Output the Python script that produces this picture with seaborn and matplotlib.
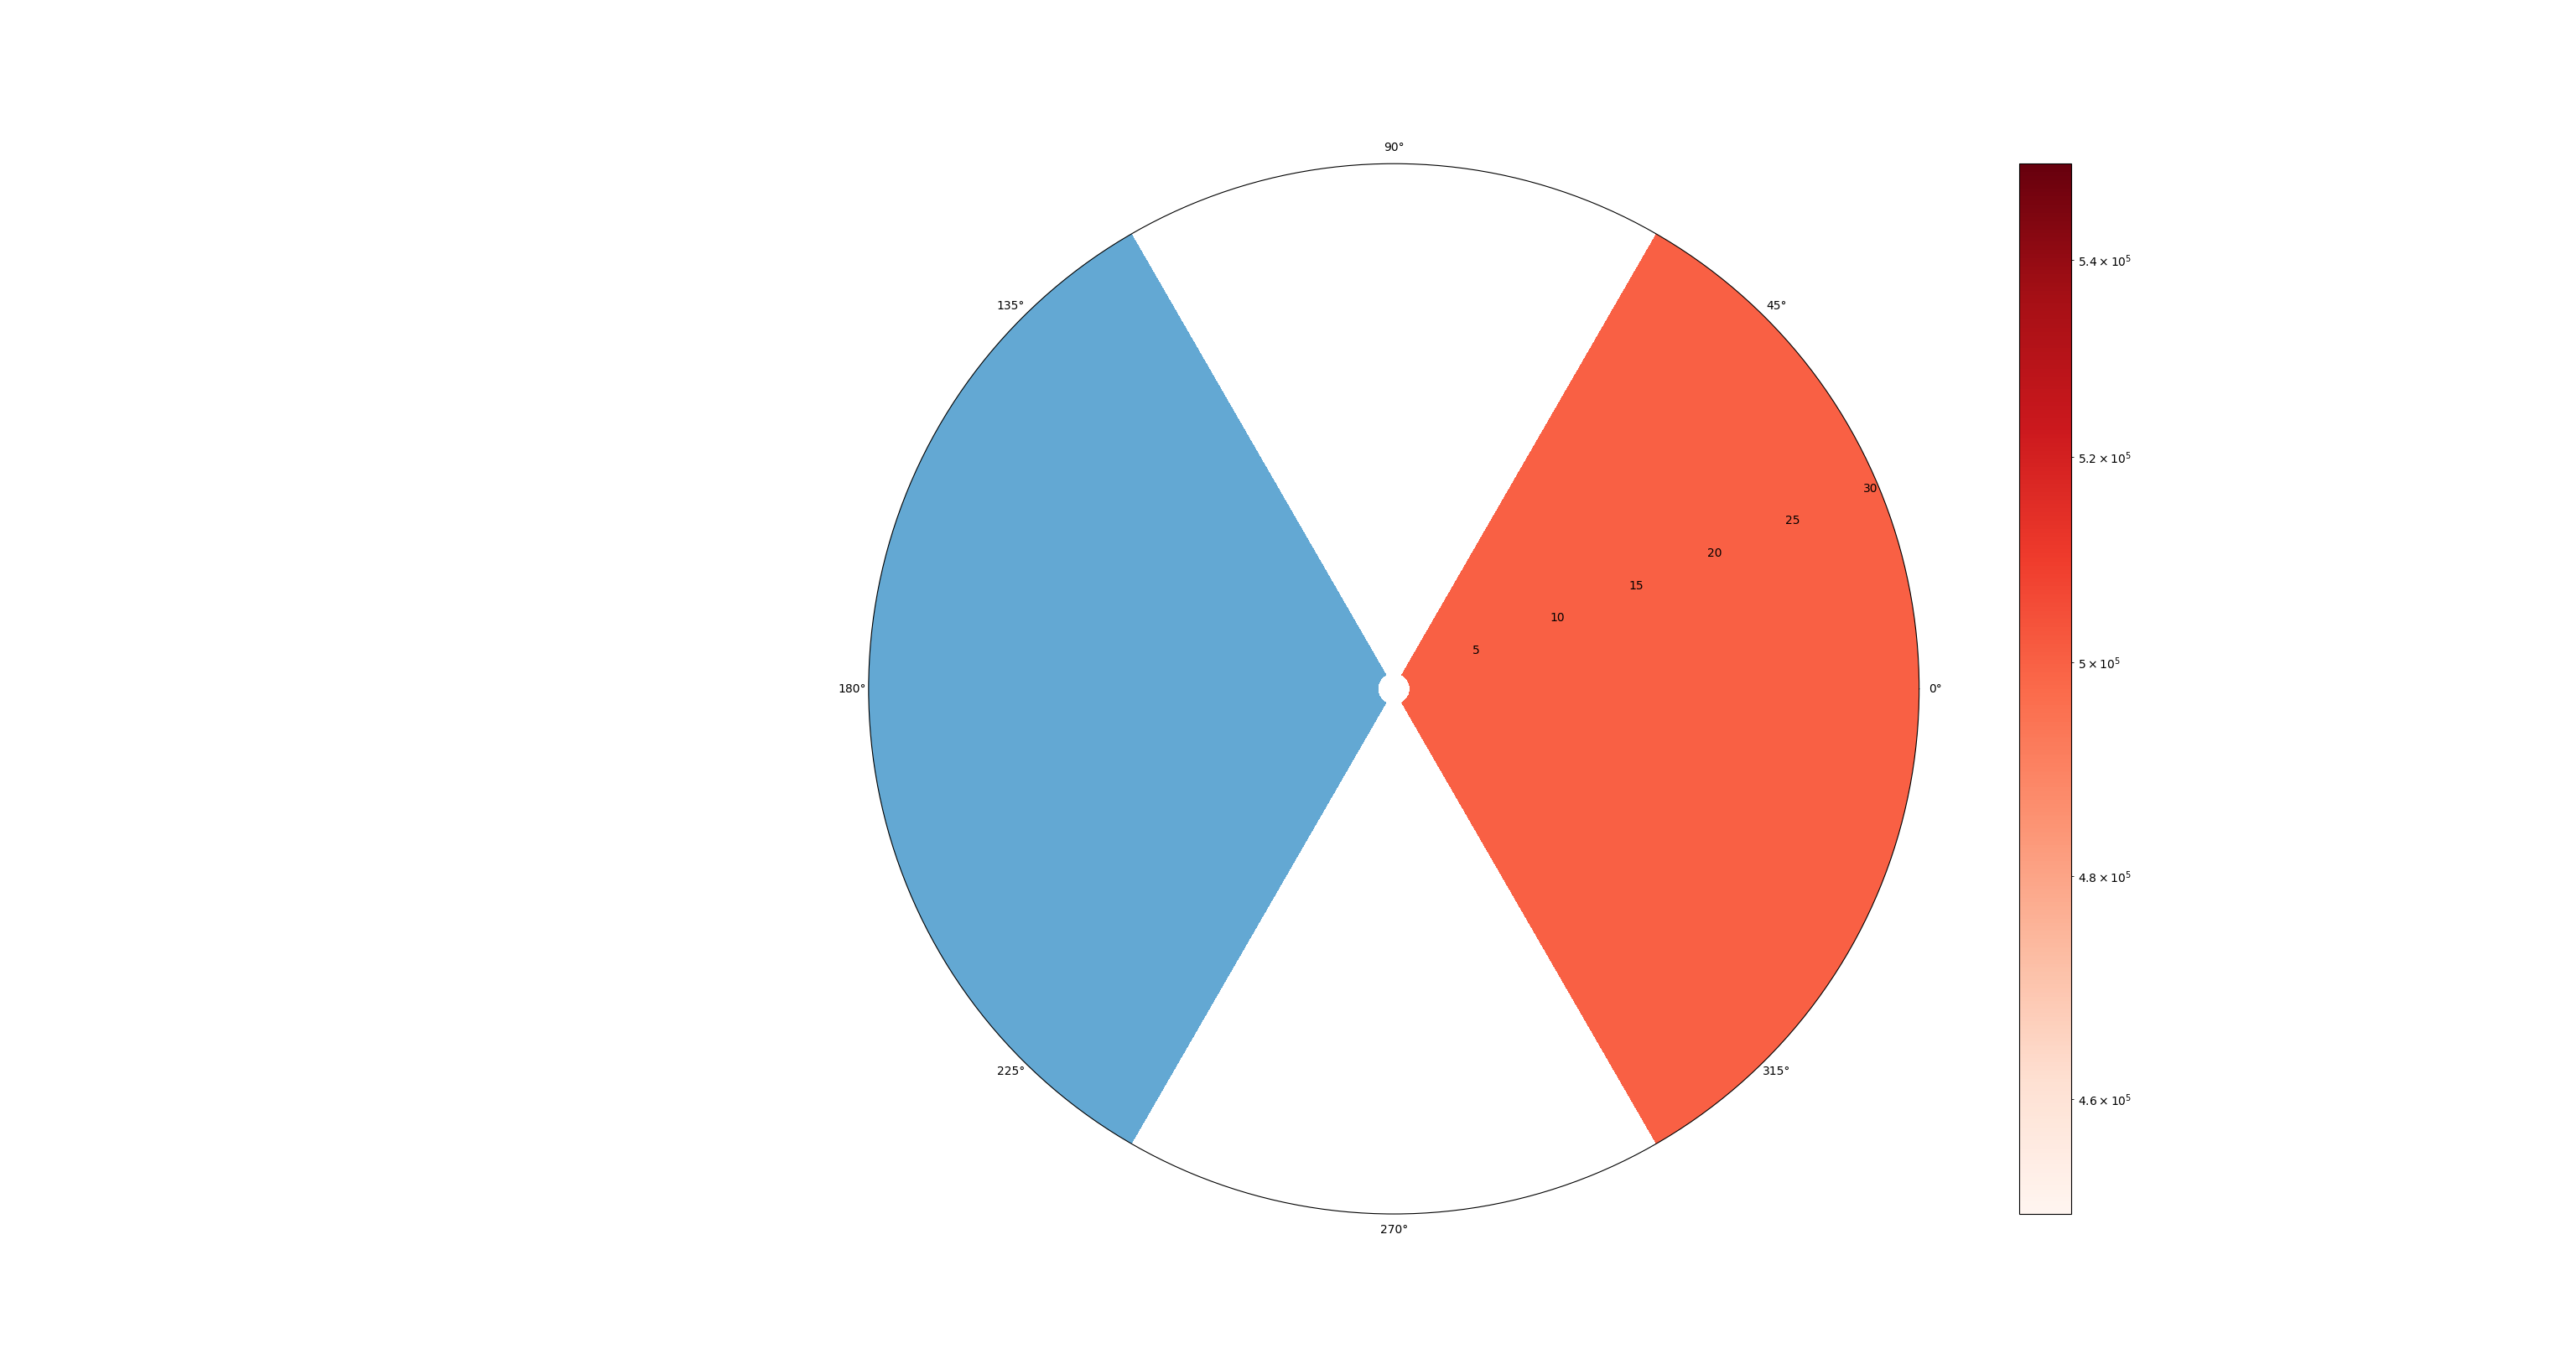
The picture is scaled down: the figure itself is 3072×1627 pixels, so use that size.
import numpy as np
import matplotlib
matplotlib.use("Agg")
import matplotlib.pyplot as plt
from matplotlib.colors import LogNorm
from matplotlib.cm import ScalarMappable
import seaborn as sns

# sectors (centre angle / width in degrees) and their values
sector_deg = [0, 180]
sector_width_deg = [120, 120]
sector_value = [5.0e5, -5.0e5]
sector_r_inner = [0.95, 0.95]
sector_r_outer = [31.0, 31.0]

r_ticks = [5, 10, 15, 20, 25, 30]
r_limits = [0, 31.0]
value_limits = [4.5e5, 5.5e5]

reds = sns.color_palette("Reds", as_cmap=True)
blues = sns.color_palette("Blues", as_cmap=True)
norm = LogNorm(vmin=value_limits[0], vmax=value_limits[1])

# positive values on Reds, negative on Blues (by magnitude)
colors = []
for v in sector_value:
    if v >= 0:
        colors.append(reds(norm(v)))
    else:
        colors.append(blues(norm(-v)))

fig, ax = plt.subplots(figsize=(30.72, 16.27), dpi=100,
                       subplot_kw={'projection': 'polar'})

heights = np.array(sector_r_outer) - np.array(sector_r_inner)
ax.bar(np.deg2rad(sector_deg), heights, width=np.deg2rad(sector_width_deg),
       bottom=sector_r_inner, color=colors, linewidth=0, antialiased=False)

ax.set_ylim(r_limits)
ax.set_rticks(r_ticks)
ax.grid(False)

sm = ScalarMappable(norm=norm, cmap=reds)
fig.colorbar(sm, ax=ax)

plt.savefig('out.png', dpi=100)
